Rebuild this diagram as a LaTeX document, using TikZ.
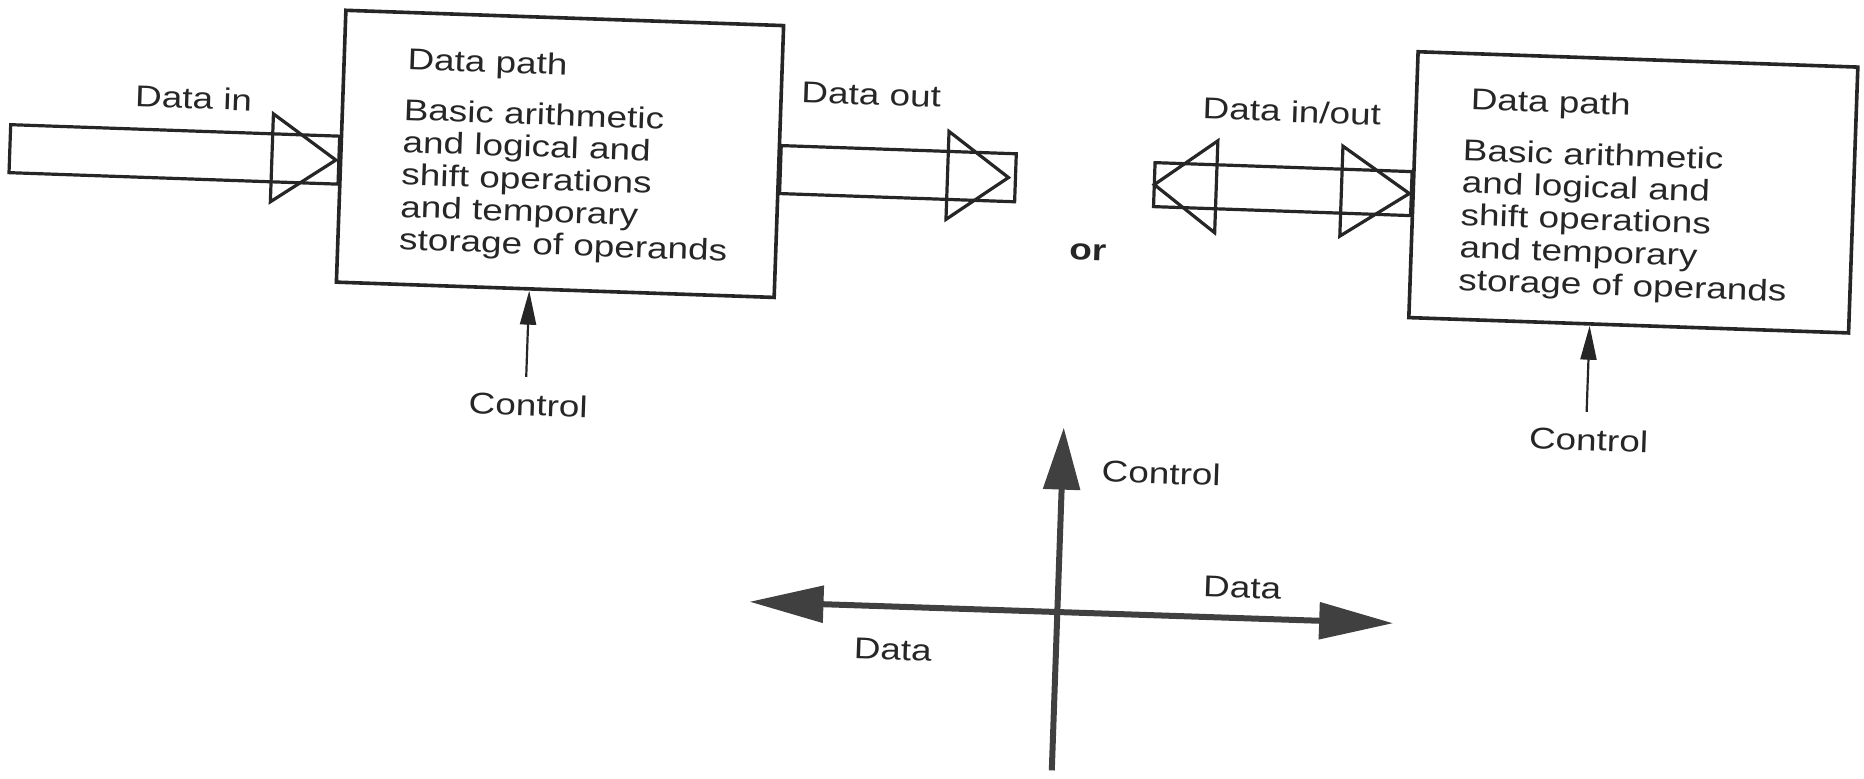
\documentclass[tikz,border=0pt]{standalone}
\usepackage{fontspec}
\setmainfont{Liberation Sans}[FakeStretch=1.23]
\usetikzlibrary{arrows.meta,calc}
\begin{document}
\begin{tikzpicture}[x=0.5pt,y=-0.5pt,
  dbox/.style={draw=black!85, line width=1.8pt, minimum width=219pt, minimum height=136pt, inner sep=0pt},
  txt/.style={font=\fontsize{15}{16.2}\selectfont, text=black!85, inner sep=0pt},
  shaft/.style={draw=black!85, line width=1.6pt, line join=miter},
  ctrl/.style={draw=black!85, line width=1.1pt, -{Triangle[length=17pt,width=8pt]}},
  big/.style={draw=black!75, line width=3pt},
]
\useasboundingbox (0,0) rectangle (1864,779);
\begin{scope}[rotate around={-2:(932,390)}, transform shape]
% ---------- left data path ----------
\node[dbox] (lbox) at (552,167) {};
\node[txt, anchor=base west] (ltitle) at (396,88) {Data path};
\node[txt, anchor=north west, align=left] (lbody) at (394,116.5)
  {Basic arithmetic\\and logical and\\shift operations\\and temporary\\storage of operands};
% data in
\coordinate (dinL) at (2,181);
\coordinate (dinR) at (lbox.west |- dinL);
\draw[shaft] ($(dinL)+(0,-24)$) rectangle ($(dinR)+(0,24)$);
\draw[shaft] ($(dinR)+(-67,-44)$) -- ($(dinR)+(-67,44)$) -- ($(dinR)+(-3,0)$) -- cycle;
\node[txt] (ldin) at (184,124) {Data in};
% data out
\coordinate (doutR) at (1008,175);
\coordinate (doutL) at (lbox.east |- doutR);
\draw[shaft] ($(doutL)+(0,-24)$) rectangle ($(doutR)+(0,24)$);
\draw[shaft] ($(doutR)+(-68,-44)$) -- ($(doutR)+(-68,44)$) -- ($(doutR)+(-7,0)$) -- cycle;
\node[txt] (ldout) at (861,97) {Data out};
% control
\coordinate (c1) at (526,391);
\draw[ctrl] (c1) -- (c1 |- lbox.south);
\node[txt] (lc1) at (529,419) {Control};
% or
\node[txt, font=\fontsize{15}{16}\selectfont\bfseries] (or) at (1083,247) {or};
% ---------- right data path ----------
\node[dbox, minimum width=220pt, minimum height=133pt] (rbox) at (1626,168) {};
\node[txt, anchor=base west] (rtitle) at (1460,91) {Data path};
\node[txt, anchor=north west, align=left] (rbody) at (1454,120)
  {Basic arithmetic\\and logical and\\shift operations\\and temporary\\storage of operands};
% data in/out
\coordinate (dioL) at (1147,177);
\coordinate (dioR) at (rbox.west |- dioL);
\draw[shaft] ($(dioL)+(0,-22)$) rectangle ($(dioR)+(0,22)$);
\draw[shaft] ($(dioL)+(62,-46)$) -- ($(dioL)+(62,46)$) -- (dioL) -- cycle;
\draw[shaft] ($(dioR)+(-70,-45)$) -- ($(dioR)+(-70,45)$) -- ($(dioR)+(-2,0)$) -- cycle;
\node[txt] (ldio) at (1282,99) {Data in/out};
% control
\coordinate (c2) at (1587,389);
\draw[ctrl] (c2) -- (c2 |- rbox.south);
\node[txt] (lc2) at (1590,417) {Control};
% ---------- cross ----------
\coordinate (vb) at (1065,766);
\coordinate (vt) at (1065,423);
\coordinate (hl) at (757,608);
\coordinate (hr) at (1401,607);
\draw[big, -{Triangle[length=31pt,width=18pt]}] (vb) -- (vt);
\draw[big, {Triangle[length=37pt,width=18pt]}-{Triangle[length=37pt,width=18pt]}] (hl) -- (hr);
\node[txt] (lcv) at (1164,465) {Control};
\node[txt] (ldr) at (1249,577) {Data};
\node[txt] (ldl) at (902,651) {Data};
\end{scope}
\end{tikzpicture}
\end{document}
